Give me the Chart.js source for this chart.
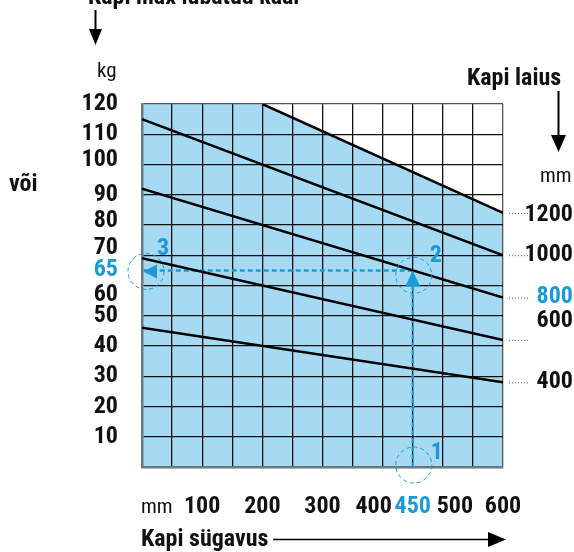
<!DOCTYPE html>
<html><head><meta charset="utf-8">
<script src="https://cdn.jsdelivr.net/npm/chart.js@4.4.0/dist/chart.umd.min.js"></script>
<style>html,body{margin:0;padding:0;background:#fff;}#wrap{width:574px;height:552px;position:relative;}</style>
</head><body><div id="wrap"><canvas id="c" width="574" height="552"></canvas></div>
<script>
// ---- data ----
const depthMm = [0, 600];
const width400 = [46, 28];
const width600 = [69, 42];
const width800 = [92, 56];
const width1000 = [115, 70];
const width1200Depth = [0, 200, 600];
const width1200 = [120, 120, 84];
const widthNames = ['400', '600', '800', '1000', '1200'];
const xGridValues = [0, 50, 100, 150, 200, 250, 300, 350, 400, 450, 500, 550, 600];
const xLabelValues = [100, 200, 300, 400, 450, 500, 600];
const yGridValues = [0, 10, 20, 30, 40, 50, 60, 65, 70, 80, 90, 100, 110, 120];
const yLabelValues = [10, 20, 30, 40, 50, 60, 65, 70, 80, 90, 100, 110, 120];
const exampleDepth = 450;
const exampleWidth = '800';
const exampleLoad = 65;

const BLUE = '#1b9ad6';
const FILL = '#a6daf3';
const FONT = "'Liberation Sans Narrow','Arial Narrow','Roboto Condensed',Arial,'Liberation Sans',sans-serif";
const FS = 24;

const pts = (xs, ys) => xs.map((x, i) => ({x, y: ys[i]}));
const lineDs = (ys) => ({data: pts(depthMm, ys), borderColor: '#000', borderWidth: 2.5, pointRadius: 0, fill: false, tension: 0});

const yNudge = {'100': -5, '80': -4, '70': -7, '60': 9};
const xNudge = {'400': -9, '500': 12};

const nudgePlugin = {
  id: 'nudge',
  beforeDraw(chart) {
    [['y', yNudge, 1], ['x', xNudge, 0]].forEach(([id, map, k]) => {
      const items = chart.scales[id].getLabelItems(chart.chartArea);
      items.forEach(it => {
        if (it._n) return;
        const d = map[String(it.label)];
        if (d && it.options && it.options.translation) it.options.translation[k] += d;
        it._n = true;
      });
    });
  }
};

const annoPlugin = {
  id: 'anno',
  afterDraw(chart) {
    const ctx = chart.ctx, xs = chart.scales.x, ys = chart.scales.y;
    const px = xs.getPixelForValue(exampleDepth), py = ys.getPixelForValue(exampleLoad);
    const x0 = xs.getPixelForValue(0), y0 = ys.getPixelForValue(0), xr = xs.getPixelForValue(600);
    ctx.save();
    ctx.fillStyle = BLUE;
    ctx.beginPath(); ctx.moveTo(px, py); ctx.lineTo(px - 7.5, py + 16); ctx.lineTo(px + 7.5, py + 16); ctx.closePath(); ctx.fill();
    ctx.beginPath(); ctx.moveTo(x0 + 1, py + 1); ctx.lineTo(x0 + 15, py - 6); ctx.lineTo(x0 + 15, py + 8); ctx.closePath(); ctx.fill();
    ctx.strokeStyle = BLUE; ctx.lineWidth = 1; ctx.setLineDash([4, 3]);
    [[px + 1, y0 - 2], [px + 1, py + 5], [x0 + 4, py + 1]].forEach(([cx, cy]) => {
      ctx.beginPath(); ctx.arc(cx, cy, 18, 0, Math.PI * 2); ctx.stroke();
    });
    ctx.setLineDash([]);
    ctx.font = 'bold ' + FS + 'px ' + FONT; ctx.textAlign = 'center'; ctx.textBaseline = 'middle';
    ctx.fillText('1', px + 24, y0 - 14);
    ctx.fillText('2', px + 23, py - 14);
    ctx.fillText('3', x0 + 21, py - 21);

    const ends = [width400[1], width600[1], width800[1], width1000[1], width1200[2]];
    const lblNudge = {'400': 0, '600': -19, '800': -1, '1000': 0, '1200': 2};
    ctx.textAlign = 'right';
    ends.forEach((v, i) => {
      const yy = ys.getPixelForValue(v);
      ctx.strokeStyle = '#555'; ctx.lineWidth = 1; ctx.setLineDash([1, 2]);
      ctx.beginPath(); ctx.moveTo(xr + 6, yy + 0.5); ctx.lineTo(xr + 25, yy + 0.5); ctx.stroke();
      ctx.setLineDash([]);
      const name = widthNames[i];
      ctx.fillStyle = name === exampleWidth ? BLUE : '#111';
      ctx.font = 'bold ' + FS + 'px ' + FONT;
      ctx.fillText(name, 573, yy + lblNudge[name]);
    });

    ctx.fillStyle = '#111';
    ctx.textAlign = 'left'; ctx.textBaseline = 'alphabetic';
    ctx.font = 'bold ' + FS + 'px ' + FONT;
    ctx.fillText('Kapi max lubatud kaal', 88, 4);
    ctx.fillText('Kapi laius', 467, 85);
    ctx.fillText('või', 9, 191);
    ctx.textBaseline = 'middle';
    ctx.fillText('Kapi sügavus', 141, 540);
    ctx.font = '21px ' + FONT;
    ctx.fillText('kg', 97, 72);
    ctx.fillText('mm', 540, 177);
    ctx.fillText('mm', 141, 508);

    ctx.strokeStyle = '#000'; ctx.fillStyle = '#000'; ctx.lineWidth = 2;
    ctx.beginPath(); ctx.moveTo(95.5, 10); ctx.lineTo(95.5, 32); ctx.stroke();
    ctx.beginPath(); ctx.moveTo(95.5, 45); ctx.lineTo(89, 29); ctx.lineTo(102, 29); ctx.closePath(); ctx.fill();
    ctx.beginPath(); ctx.moveTo(558.5, 91); ctx.lineTo(558.5, 138); ctx.stroke();
    ctx.beginPath(); ctx.moveTo(558.5, 152); ctx.lineTo(551, 135); ctx.lineTo(566, 135); ctx.closePath(); ctx.fill();
    ctx.lineWidth = 1.5;
    ctx.beginPath(); ctx.moveTo(273, 539.5); ctx.lineTo(492, 539.5); ctx.stroke();
    ctx.beginPath(); ctx.moveTo(506, 539.5); ctx.lineTo(488, 532); ctx.lineTo(488, 547); ctx.closePath(); ctx.fill();
    ctx.restore();
  }
};

new Chart(document.getElementById('c'), {
  type: 'line',
  data: {
    datasets: [
      {label: '1200', data: pts(width1200Depth, width1200), borderColor: '#000', borderWidth: 2.5, pointRadius: 0,
       fill: 'origin', backgroundColor: FILL, tension: 0,
       segment: {borderColor: c => c.p0DataIndex === 0 ? 'rgba(0,0,0,0)' : '#000'}},
      Object.assign(lineDs(width1000), {label: '1000'}),
      Object.assign(lineDs(width800), {label: '800'}),
      Object.assign(lineDs(width600), {label: '600'}),
      Object.assign(lineDs(width400), {label: '400'}),
      {label: 'v', data: [{x: exampleDepth, y: 0}, {x: exampleDepth, y: exampleLoad}], borderColor: BLUE, borderWidth: 2.5, borderDash: [5, 3], pointRadius: 0, fill: false},
      {label: 'h', data: [{x: exampleDepth, y: exampleLoad}, {x: 0, y: exampleLoad}], borderColor: BLUE, borderWidth: 2.5, borderDash: [5, 3], pointRadius: 0, fill: false}
    ]
  },
  options: {
    responsive: false, animation: false, devicePixelRatio: 1,
    layout: {padding: {left: 0, top: 104, right: 71, bottom: 0}},
    plugins: {legend: {display: false}, tooltip: {enabled: false}, filler: {drawTime: 'beforeDraw'}},
    scales: {
      x: {
        type: 'linear', min: 0, max: 600,
        afterBuildTicks: s => { s.ticks = xGridValues.map(v => ({value: v})); },
        afterFit: s => { s.height = 85; },
        grid: {color: c => (c.tick && c.tick.value === 0) ? 'rgba(0,0,0,0)' : (c.tick && c.tick.value === 600 ? '#555' : '#111'), lineWidth: 1.3, drawTicks: false},
        border: {color: '#6b787e', width: 2.5},
        ticks: {
          autoSkip: false, maxRotation: 0, padding: 26,
          callback: v => xLabelValues.includes(v) ? String(v) : '',
          color: c => c.tick && c.tick.value === exampleDepth ? BLUE : '#111',
          font: {family: FONT, size: FS, weight: 'bold'}
        }
      },
      y: {
        type: 'linear', min: 0, max: 120,
        afterBuildTicks: s => { s.ticks = yGridValues.map(v => ({value: v})); },
        afterFit: s => { s.width = 142; },
        grid: {color: c => (c.tick && (c.tick.value === exampleLoad || c.tick.value === 0)) ? 'rgba(0,0,0,0)' : (c.tick && c.tick.value === 120 ? '#555' : '#111'), lineWidth: 1.3, drawTicks: false},
        border: {color: '#6b787e', width: 2.5},
        ticks: {
          autoSkip: false, padding: 24,
          callback: v => yLabelValues.includes(v) ? String(v) : '',
          color: c => c.tick && c.tick.value === exampleLoad ? BLUE : '#111',
          font: {family: FONT, size: FS, weight: 'bold'}
        }
      }
    }
  },
  plugins: [nudgePlugin, annoPlugin]
});
</script></body></html>
